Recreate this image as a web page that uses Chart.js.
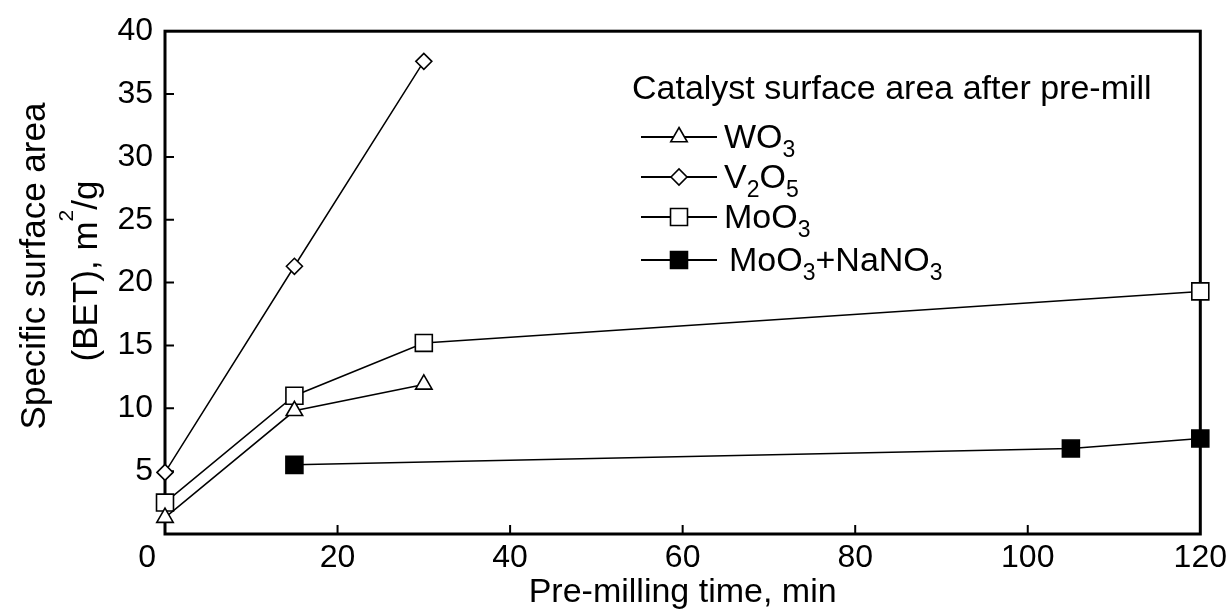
<!DOCTYPE html>
<html>
<head>
<meta charset="utf-8">
<script src="https://cdn.jsdelivr.net/npm/chart.js@4"></script>
<style>
  html, body { margin: 0; padding: 0; background: #fff; }
</style>
</head>
<body>
<canvas id="betChart" width="1232" height="615"></canvas>
<script>
// BET surface area (m2/g) vs pre-milling time (min)
const wo3Time = [0, 15, 30];
const wo3Area = [1.3, 9.8, 11.9];
const v2o5Time = [0, 15, 30];
const v2o5Area = [4.9, 21.3, 37.6];
const moo3Time = [0, 15, 30, 120];
const moo3Area = [2.5, 11.0, 15.2, 19.3];
const mixTime = [15, 105, 120];
const mixArea = [5.5, 6.8, 7.6];

const xTicks = [0, 20, 40, 60, 80, 100, 120];
const yTicks = [5, 10, 15, 20, 25, 30, 35, 40];
const seriesNames = ['WO_3', 'V_2O_5', 'MoO_3', 'MoO_3+NaNO_3'];
const legendTitle = 'Catalyst surface area after pre-mill';

const FONT = '"Liberation Sans", Arial, Helvetica, sans-serif';
Chart.defaults.font.family = FONT;
Chart.defaults.color = '#000';

function toPoints(xs, ys) {
    return xs.map((x, i) => ({ x: x, y: ys[i] }));
}

function series(label, xs, ys, style, radius, fill) {
    return {
        label: label,
        data: toPoints(xs, ys),
        showLine: true,
        borderColor: '#000',
        borderWidth: 1.5,
        backgroundColor: fill,
        pointBackgroundColor: fill,
        pointBorderColor: '#000',
        pointBorderWidth: 1.6,
        pointStyle: style,
        pointRadius: radius,
        pointHoverRadius: radius,
        clip: false
    };
}

const datasets = [
    series(seriesNames[0], wo3Time, wo3Area, 'triangle', 9.5, '#fff'),
    series(seriesNames[1], v2o5Time, v2o5Area, 'rectRot', 8, '#fff'),
    series(seriesNames[2], moo3Time, moo3Area, 'rect', 12, '#fff'),
    series(seriesNames[3], mixTime, mixArea, 'rect', 12, '#000')
];

// draws "MoO_3" style text with subscripts
function drawChem(ctx, text, x, y, size, subSize, drop) {
    ctx.textAlign = 'left';
    ctx.textBaseline = 'alphabetic';
    text.split(/(_\d)/).forEach(part => {
        if (!part) return;
        if (part[0] === '_') {
            ctx.font = subSize + 'px ' + FONT;
            ctx.fillText(part[1], x, y + drop);
            x += ctx.measureText(part[1]).width;
        } else {
            ctx.font = size + 'px ' + FONT;
            ctx.fillText(part, x, y);
            x += ctx.measureText(part).width;
        }
    });
}

const framePlugin = {
    id: 'frame',
    beforeDatasetsDraw(chart) {
        const ctx = chart.ctx;
        const ca = chart.chartArea;
        const xs = chart.scales.x, ys = chart.scales.y;
        ctx.save();
        ctx.strokeStyle = '#000';
        ctx.lineWidth = 3;
        ctx.strokeRect(ca.left, ca.top, ca.right - ca.left, ca.bottom - ca.top);
        ctx.lineWidth = 2;
        ctx.beginPath();
        yTicks.forEach(v => {
            if (v >= 40) return;
            const py = ys.getPixelForValue(v);
            ctx.moveTo(ca.left, py);
            ctx.lineTo(ca.left + 9, py);
        });
        xTicks.forEach(v => {
            if (v <= 0 || v >= 120) return;
            const px = xs.getPixelForValue(v);
            ctx.moveTo(px, ca.bottom);
            ctx.lineTo(px, ca.bottom - 9);
        });
        ctx.stroke();
        ctx.restore();
    },
    afterDraw(chart) {
        const ctx = chart.ctx;
        ctx.save();
        ctx.fillStyle = '#000';

        // y axis title, two rotated lines
        ctx.save();
        ctx.translate(45, 266);
        ctx.rotate(-Math.PI / 2);
        ctx.font = '35px ' + FONT;
        ctx.textAlign = 'center';
        ctx.textBaseline = 'alphabetic';
        ctx.fillText('Specific surface area', 0, 0);
        ctx.restore();

        ctx.save();
        ctx.translate(97, 271);
        ctx.rotate(-Math.PI / 2);
        ctx.font = '35px ' + FONT;
        const a = '(BET), m', b = '/g';
        const wa = ctx.measureText(a).width, wb = ctx.measureText(b).width;
        ctx.font = '21px ' + FONT;
        const ws = ctx.measureText('2').width;
        let x0 = -(wa + ws + wb) / 2;
        ctx.textAlign = 'left';
        ctx.font = '35px ' + FONT;
        ctx.fillText(a, x0, 0);
        ctx.font = '21px ' + FONT;
        ctx.fillText('2', x0 + wa, -24);
        ctx.font = '35px ' + FONT;
        ctx.fillText(b, x0 + wa + ws, 0);
        ctx.restore();

        // legend
        ctx.font = '34px ' + FONT;
        ctx.textAlign = 'left';
        ctx.textBaseline = 'alphabetic';
        ctx.fillText(legendTitle, 632, 99);
        const rowY = [137, 177, 217, 260];
        chart.data.datasets.forEach((ds, i) => {
            const y = rowY[i];
            ctx.strokeStyle = '#000';
            ctx.lineWidth = 1.8;
            ctx.beginPath();
            ctx.moveTo(641, y);
            ctx.lineTo(717, y);
            ctx.stroke();
            ctx.fillStyle = ds.pointBackgroundColor;
            ctx.lineWidth = ds.pointBorderWidth;
            Chart.helpers.drawPoint(ctx, {
                pointStyle: ds.pointStyle,
                radius: ds.pointRadius,
                rotation: 0,
                borderWidth: ds.pointBorderWidth
            }, 679, y);
            ctx.fillStyle = '#000';
            drawChem(ctx, ds.label, i === 3 ? 729 : 724, y + 11, 34, 23, 9);
        });
        ctx.restore();
    }
};

new Chart(document.getElementById('betChart'), {
    type: 'scatter',
    data: { datasets: datasets },
    options: {
        responsive: false,
        animation: false,
        events: [],
        layout: { padding: { top: 22, right: 30, left: 0, bottom: 0 } },
        plugins: {
            legend: { display: false },
            tooltip: { enabled: false }
        },
        scales: {
            x: {
                type: 'linear',
                min: 0,
                max: 120,
                afterFit: scale => { scale.height = 81; },
                afterBuildTicks: scale => { scale.ticks = xTicks.map(v => ({ value: v })); },
                ticks: {
                    font: { size: 32 },
                    padding: 5,
                    color: '#000',
                    maxRotation: 0,
                    // the 0 label sits a little left of its tick in the figure
                    callback: v => v === 0 ? '0    ' : String(v)
                },
                grid: { display: false, drawTicks: false },
                border: { display: false },
                title: {
                    display: true,
                    text: 'Pre-milling time, min',
                    font: { size: 34 },
                    color: '#000',
                    padding: { top: 0, bottom: 2 }
                }
            },
            y: {
                min: 0,
                max: 40,
                afterFit: scale => { scale.width = 165; },
                afterBuildTicks: scale => { scale.ticks = yTicks.map(v => ({ value: v })); },
                ticks: { font: { size: 32 }, padding: 12, color: '#000' },
                grid: { display: false, drawTicks: false },
                border: { display: false }
            }
        }
    },
    plugins: [framePlugin]
});
</script>
</body>
</html>
